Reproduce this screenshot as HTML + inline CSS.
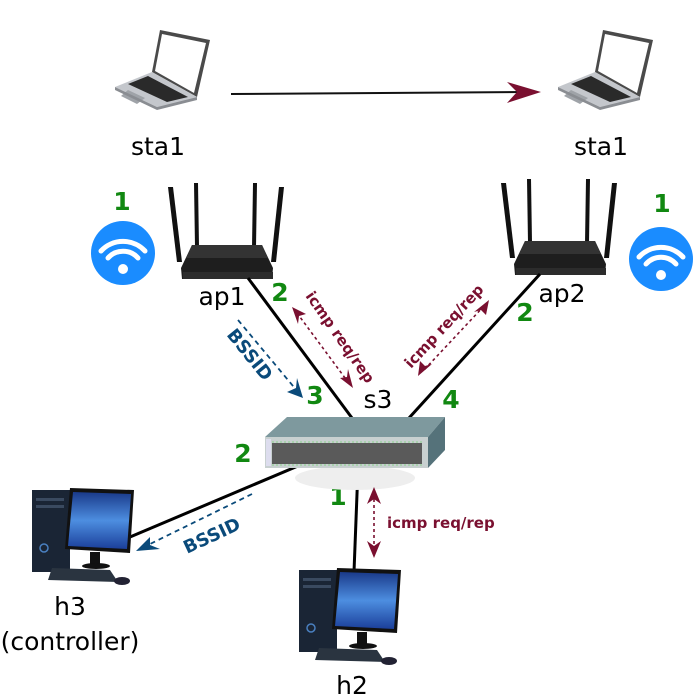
<!DOCTYPE html>
<html><head><meta charset="utf-8"><style>
html,body{margin:0;padding:0;background:#fff;}
svg{display:block;font-family:"DejaVu Sans","Liberation Sans",sans-serif;}
</style></head><body>
<svg width="695" height="696" viewBox="0 0 695 696" xmlns="http://www.w3.org/2000/svg">
<defs>
<linearGradient id="scr" x1="0" y1="0" x2="0" y2="1"><stop offset="0" stop-color="#1a3a8a"/><stop offset="0.5" stop-color="#4d8ee0"/><stop offset="1" stop-color="#1b3f9a"/></linearGradient>
<g id="laptop">
<polygon points="160,30 210,40 197,97 152,72" fill="#4a4a4a"/>
<polygon points="162,34 206,43 194,93 155,71" fill="#fff"/>
<polygon points="152,72 197,97 157,107 115,87" fill="#c4c7cc"/>
<polygon points="148,76 188,97 167,102 128,84" fill="#2a2a2a"/>
<polygon points="128,90 145,98 137,104 121,96" fill="#9fa3a8"/>
<polygon points="115,87 157,107 197,97 197,100 157,110 115,90" fill="#8a8d92"/>
</g>
<g id="router">
<polygon points="168,187 173,187 182,262 177,262" fill="#111"/>
<polygon points="194,183 198,183 199,247 195,247" fill="#111"/>
<polygon points="253,183 257,183 256,247 252,247" fill="#111"/>
<polygon points="279,187 284,187 276,262 271,262" fill="#111"/>
<polygon points="192,245 262,245 273,268 272,279 182,279 181,268" fill="#1e1e1e"/>
<polygon points="192,245 262,245 268,258 186,258" fill="#333"/>
<rect x="183" y="272" width="90" height="7" fill="#2c2c2c"/>
</g>
<g id="pc">
<rect x="32" y="490" width="38" height="82" fill="#1a2535"/>
<rect x="36" y="498" width="28" height="3" fill="#3a4a60"/>
<rect x="36" y="505" width="28" height="3" fill="#3a4a60"/>
<circle cx="44" cy="548" r="4" fill="none" stroke="#4a80c0" stroke-width="1.5"/>
<polygon points="70,488 134,490 130,553 65,549" fill="#111"/>
<polygon points="73,492 131,494 127,549 68,546" fill="url(#scr)"/>
<rect x="90" y="552" width="10" height="12" fill="#111"/>
<ellipse cx="96" cy="566" rx="14" ry="3" fill="#111"/>
<polygon points="52,568 110,570 118,582 48,580" fill="#2a3440"/>
<ellipse cx="122" cy="581" rx="8" ry="4" fill="#223"/>
</g>
</defs>

<use href="#laptop"/>
<use href="#laptop" transform="translate(443,0)"/>
<line x1="231" y1="94" x2="525" y2="92" stroke="#111" stroke-width="2"/>
<polygon points="541,92 507,103 517,92 507,82" fill="#7a1030"/>
<text x="158" y="155" font-size="25" text-anchor="middle">sta1</text>
<text x="601" y="155" font-size="25" text-anchor="middle">sta1</text>

<use href="#router"/>
<use href="#router" transform="translate(333,-4)"/>

<g>
<circle cx="123" cy="253" r="32" fill="#1a8cff"/>
<path d="M101,251 A30,30 0 0 1 145,251" fill="none" stroke="#fff" stroke-width="5" stroke-linecap="round"/>
<path d="M108,258 A20,20 0 0 1 138,258" fill="none" stroke="#fff" stroke-width="5" stroke-linecap="round"/>
<circle cx="123" cy="269" r="5" fill="#fff"/>
</g>
<g transform="translate(538,6)">
<circle cx="123" cy="253" r="32" fill="#1a8cff"/>
<path d="M101,251 A30,30 0 0 1 145,251" fill="none" stroke="#fff" stroke-width="5" stroke-linecap="round"/>
<path d="M108,258 A20,20 0 0 1 138,258" fill="none" stroke="#fff" stroke-width="5" stroke-linecap="round"/>
<circle cx="123" cy="269" r="5" fill="#fff"/>
</g>

<g font-weight="bold" font-size="25" fill="#118811" text-anchor="middle">
<text x="122" y="210">1</text>
<text x="662" y="212">1</text>
<text x="280" y="301">2</text>
<text x="315" y="404">3</text>
<text x="451" y="408">4</text>
<text x="525" y="321">2</text>
<text x="243" y="462">2</text>
<text x="338" y="505">1</text>
</g>
<text x="222" y="305" font-size="25" text-anchor="middle">ap1</text>
<text x="562" y="302" font-size="25" text-anchor="middle">ap2</text>
<text x="378" y="408" font-size="25" text-anchor="middle">s3</text>

<line x1="248" y1="278" x2="352" y2="418" stroke="#000" stroke-width="3"/>
<line x1="540" y1="274" x2="409" y2="418" stroke="#000" stroke-width="3"/>
<line x1="305" y1="463" x2="130" y2="537" stroke="#000" stroke-width="3"/>
<line x1="358" y1="468" x2="354" y2="572" stroke="#000" stroke-width="3"/>

<ellipse cx="355" cy="478" rx="60" ry="12" fill="#eee"/>
<polygon points="265,437 287,417 445,417 428,437" fill="#7e999e"/>
<polygon points="428,437 445,417 445,450 428,468" fill="#55727a"/>
<rect x="265" y="437" width="163" height="31" fill="#c8d0d0"/>
<rect x="272" y="443" width="150" height="21" fill="#5a5a5a"/>
<g stroke="#8ad08a" stroke-width="1" stroke-dasharray="2 2"><line x1="272" y1="442" x2="422" y2="442"/><line x1="272" y1="465" x2="422" y2="465"/></g>
<rect x="266" y="439" width="5" height="27" fill="#dde"/>

<g stroke="#0a4a7a" stroke-width="1.8" stroke-dasharray="5 4" fill="none">
<line x1="238" y1="320" x2="298" y2="392"/>
<line x1="252" y1="494" x2="148" y2="545"/>
</g>
<polygon points="303,398 287,392 296,388 297,378" fill="#0a4a7a"/>
<polygon points="136,551 150,537 150,545 160,549" fill="#0a4a7a"/>
<text font-size="18" font-weight="bold" fill="#0a4a7a" transform="translate(226,335) rotate(51)">BSSID</text>
<text font-size="18" font-weight="bold" fill="#0a4a7a" transform="translate(187,554) rotate(-25)">BSSID</text>

<g stroke="#7a1030" stroke-width="1.6" stroke-dasharray="3 3" fill="none">
<line x1="297" y1="313" x2="348" y2="382"/>
<line x1="484" y1="306" x2="424" y2="370"/>
<line x1="374" y1="493" x2="374" y2="548"/>
</g>
<polygon points="292,307 306,314 299,316 298,324" fill="#7a1030"/>
<polygon points="353,388 340,378 347,377 348,369" fill="#7a1030"/>
<polygon points="489,300 486,315 481,310 474,312" fill="#7a1030"/>
<polygon points="418,376 420,361 425,366 432,364" fill="#7a1030"/>
<polygon points="374,487 381,504 374,499 367,504" fill="#7a1030"/>
<polygon points="374,558 381,541 374,546 367,541" fill="#7a1030"/>
<text font-size="15" font-weight="bold" fill="#7a1030" transform="translate(305,296) rotate(55)">icmp req/rep</text>
<text font-size="15" font-weight="bold" fill="#7a1030" transform="translate(411,369) rotate(-47)">icmp req/rep</text>
<text x="387" y="528" font-size="15" font-weight="bold" fill="#7a1030">icmp req/rep</text>

<use href="#pc"/>
<use href="#pc" transform="translate(267,80)"/>
<text x="70" y="615" font-size="25" text-anchor="middle">h3</text>
<text x="70" y="650" font-size="25" text-anchor="middle">(controller)</text>
<text x="352" y="694" font-size="25" text-anchor="middle">h2</text>
</svg>
</body></html>
